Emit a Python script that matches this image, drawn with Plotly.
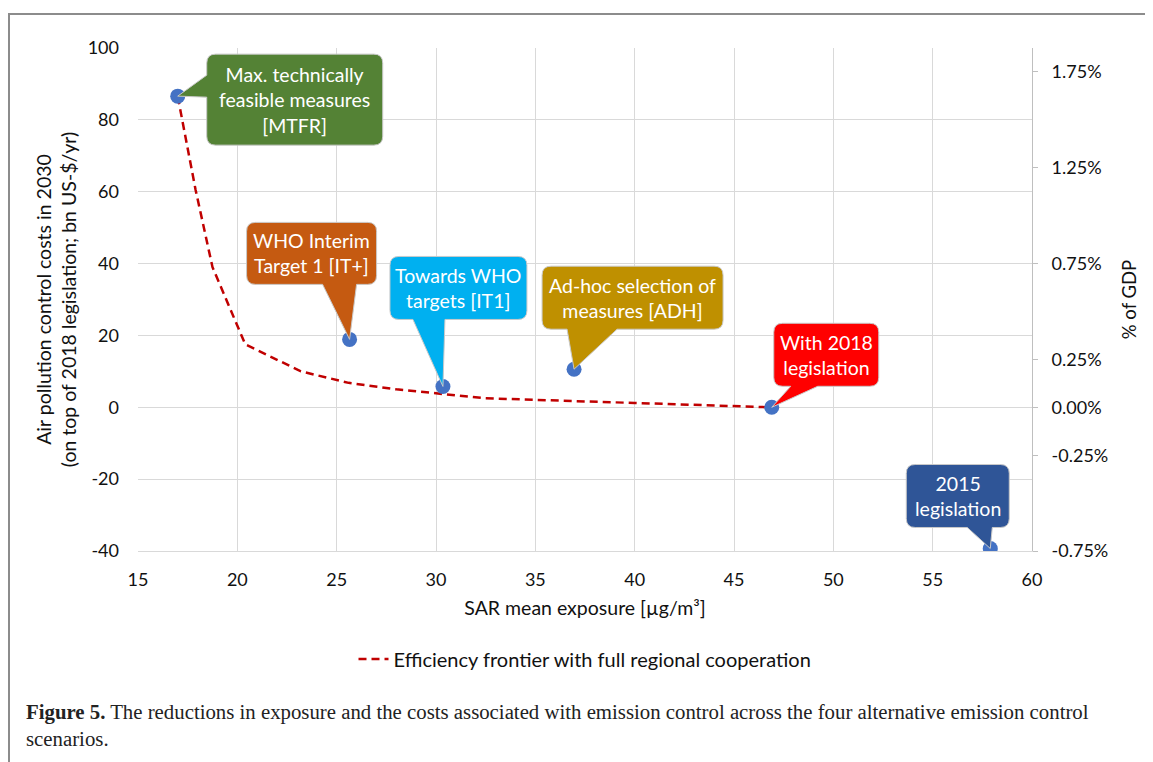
import plotly.graph_objects as go

# ---------------- data ----------------
scen_names = ["MTFR", "IT+", "IT1", "ADH", "With 2018", "2015"]
scen_x = [17.0, 25.65, 30.35, 36.95, 46.9, 57.9]
scen_y = [86.6, 18.9, 5.8, 10.6, 0.0, -39.3]
scen_labels = [
    "Max. technically<br>feasible measures<br>[MTFR]",
    "WHO Interim<br>Target 1 [IT+]",
    "Towards WHO<br>targets [IT1]",
    "Ad-hoc selection of<br>measures [ADH]",
    "With 2018<br>legislation",
    "2015<br>legislation",
]
scen_colors = ["#548235", "#C55A11", "#00B0F0", "#BF9000", "#FF0000", "#2F5597"]

front_x = [17.0, 17.9, 18.75, 20.4, 23.2, 25.6, 28.0, 30.3, 32.5, 40.0, 46.9]
front_y = [86.5, 60.5, 39.0, 17.5, 10.0, 6.8, 5.0, 3.8, 2.5, 1.2, 0.0]

cost_ticks = [-40, -20, 0, 20, 40, 60, 80, 100]
gdp_ticks = [-0.75, -0.25, 0.0, 0.25, 0.75, 1.25, 1.75]
gdp_per_pct = 53.333  # bn US-$ per 1% of GDP

# ---------------- layout constants ----------------
OFF = 8  # page body margin
W, H = 1153 - OFF, 762 - OFF
ML, MR, MT, MB = 138 - OFF, 121, 48 - OFF, 211
PW, PH = W - ML - MR, H - MT - MB
FONT = "Lato"

def px2paper_x(px):
    return (px - OFF - ML) / PW

def px2paper_y(py):
    return (H - MB - (py - OFF)) / PH

# callout geometry in pixels relative to the point (y up): L, R, T, B, edge, base1, base2
callouts = [
    (29, 205, 42, -49, "left", -1, 21),
    (-103, 27, 117, 55, "bottom", 7, -27),
    (-53, 84, 130, 67, "bottom", 2, -30),
    (-32, 149, 103, 40, "bottom", 43, -7),
    (2, 107, 84, 21, "bottom", 46, 19),
    (-84, 19, 84, 21, "bottom", 2, -23),
]

def callout_path(L, R, T, B, edge, b1, b2, r=9):
    p = f"M {L+r},{T} L {R-r},{T} Q {R},{T} {R},{T-r} L {R},{B+r} Q {R},{B} {R-r},{B}"
    if edge == "bottom":
        p += f" L {b1},{B} L 0,0 L {b2},{B}"
    p += f" L {L+r},{B} Q {L},{B} {L},{B+r}"
    if edge == "left":
        p += f" L {L},{b1} L 0,0 L {L},{b2}"
    p += f" L {L},{T-r} Q {L},{T} {L+r},{T} Z"
    return p

fig = go.Figure()

fig.add_trace(go.Scatter(
    x=front_x, y=front_y, mode="lines",
    line=dict(color="#C00000", width=2.5, dash="8px,5px"),
    name="Efficiency frontier with full regional cooperation",
))

fig.add_trace(go.Scatter(
    x=scen_x, y=scen_y, mode="markers",
    marker=dict(size=15, color="#4472C4"),
    showlegend=False, hoverinfo="x+y",
))

# invisible trace on the secondary axis so it gets drawn
fig.add_trace(go.Scatter(
    x=[scen_x[4]], y=[scen_y[4] / gdp_per_pct], yaxis="y2", mode="markers",
    marker=dict(size=1, opacity=0), showlegend=False, hoverinfo="skip",
))

shapes = []
annotations = []
for i, (L, R, T, B, edge, b1, b2) in enumerate(callouts):
    shapes.append(dict(
        type="path", xref="x", yref="y", xsizemode="pixel", ysizemode="pixel",
        xanchor=scen_x[i], yanchor=scen_y[i],
        path=callout_path(L, R, T, B, edge, b1, b2),
        fillcolor=scen_colors[i], line=dict(color="#C9C9C9", width=1), layer="above",
    ))
    annotations.append(dict(
        x=scen_x[i], y=scen_y[i], xref="x", yref="y",
        xshift=(L + R) / 2, yshift=(T + B) / 2,
        text=scen_labels[i], showarrow=False,
        font=dict(family=FONT, size=19.5, color="white"),
        align="center", xanchor="center", yanchor="middle",
    ))

# outer frame lines
shapes.append(dict(type="line", xref="paper", yref="paper",
                   x0=px2paper_x(8), x1=px2paper_x(1153 + 5), y0=px2paper_y(14), y1=px2paper_y(14),
                   line=dict(color="#8C8C8C", width=2), layer="above"))
shapes.append(dict(type="line", xref="paper", yref="paper",
                   x0=px2paper_x(9), x1=px2paper_x(9), y0=px2paper_y(14), y1=px2paper_y(762 + 5),
                   line=dict(color="#8C8C8C", width=2), layer="above"))

# caption
cap_font = dict(family="Liberation Serif", size=20.8, color="#222")
annotations.append(dict(
    x=px2paper_x(24), y=px2paper_y(712), xref="paper", yref="paper",
    xanchor="left", yanchor="middle", showarrow=False, align="left",
    text="<b>Figure 5.</b> The reductions in exposure and the costs associated with emission control across the four alternative emission control",
    font=cap_font,
))
annotations.append(dict(
    x=px2paper_x(24), y=px2paper_y(738), xref="paper", yref="paper",
    xanchor="left", yanchor="middle", showarrow=False, align="left",
    text="scenarios.", font=cap_font,
))

fig.update_layout(
    width=W, height=H,
    margin=dict(l=ML, r=MR, t=MT, b=MB),
    paper_bgcolor="white", plot_bgcolor="white",
    font=dict(family=FONT, size=18, color="#111"),
    showlegend=True,
    legend=dict(orientation="h", x=0.5, xanchor="center",
                y=px2paper_y(659), yanchor="middle",
                font=dict(family=FONT, size=20, color="#111")),
    xaxis=dict(
        range=[15, 60], dtick=5, tick0=15,
        showgrid=True, gridcolor="#D9D9D9", gridwidth=1,
        showline=True, linecolor="#D9D9D9", linewidth=1,
        zeroline=False, ticks="", ticklabelstandoff=12,
        title=dict(text="SAR mean exposure [µg/m³]", standoff=12,
                   font=dict(family=FONT, size=19.5)),
        automargin=False,
    ),
    yaxis=dict(
        range=[-40, 100], tickvals=cost_ticks,
        ticktext=[str(v) for v in cost_ticks],
        showgrid=True, gridcolor="#D9D9D9", gridwidth=1,
        showline=False, zeroline=False, ticks="", ticklabelstandoff=18,
        title=dict(text="Air pollution control costs in 2030<br>(on top of 2018 legislation; bn US-$/yr)",
                   standoff=5, font=dict(family=FONT, size=19.5)),
        automargin=False,
    ),
    yaxis2=dict(
        overlaying="y", side="right",
        range=[-40 / gdp_per_pct, 100 / gdp_per_pct],
        tickvals=gdp_ticks,
        ticktext=[f"{v:.2f}%" for v in gdp_ticks],
        showgrid=False, zeroline=False,
        showline=True, linecolor="#BFBFBF", linewidth=1,
        ticks="outside", ticklen=5, tickcolor="#BFBFBF", ticklabelstandoff=10,
        title=dict(text="% of GDP", standoff=15, font=dict(family=FONT, size=18.5)),
        automargin=False,
    ),
    shapes=shapes,
    annotations=annotations,
)

fig.write_html("out.html")
